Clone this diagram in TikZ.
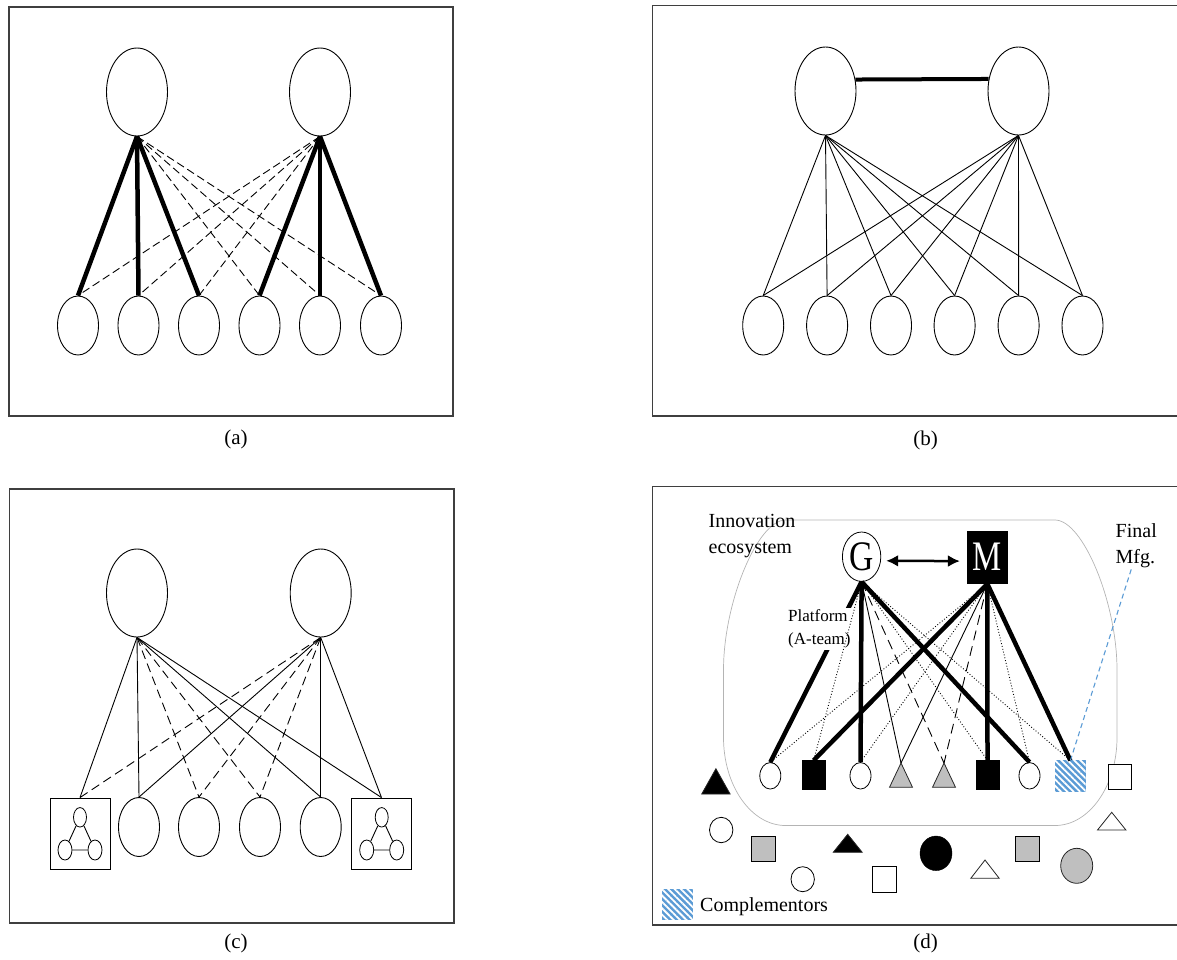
\documentclass[tikz,border=0pt]{standalone}
\usepackage{fontspec}
\setmainfont{Liberation Serif}
\usetikzlibrary{shapes.geometric,arrows.meta,patterns.meta}
\definecolor{hblue}{HTML}{5B9BD5}
\definecolor{shgray}{HTML}{BFBFBF}
\definecolor{framec}{HTML}{3F3F3F}
\definecolor{ecogray}{HTML}{B4B4B4}
\begin{document}
\begin{tikzpicture}[x=1pt,y=-1pt,
  frame/.style={draw=framec,line width=1.2pt},
  bigell/.style={draw,ellipse,line width=0.9pt,minimum width=61pt,minimum height=88pt,inner sep=0pt},
  smell/.style={draw,ellipse,line width=0.9pt,minimum width=41pt,minimum height=59pt,inner sep=0pt},
  subbox/.style={draw,rectangle,line width=0.9pt,minimum width=60pt,minimum height=71pt,inner sep=0pt},
  tinyell/.style={draw,ellipse,line width=0.8pt,minimum width=13pt,minimum height=19.5pt,inner sep=0pt},
  heavy/.style={line width=4.5pt},
  light/.style={line width=0.9pt},
  dashA/.style={line width=0.9pt,dash pattern=on 8pt off 4pt},
  dashC/.style={line width=0.9pt,dash pattern=on 9pt off 5pt},
  dashD/.style={line width=0.9pt,dash pattern=on 10pt off 6pt},
  dotD/.style={line width=0.9pt,dash pattern=on 0.9pt off 2pt},
  caption/.style={font=\fontsize{21}{24}\selectfont,inner sep=0pt},
  bigtxt/.style={font=\fontsize{20}{26}\selectfont,inner sep=0pt,align=left},
  dcirc/.style={draw,ellipse,line width=0.8pt,minimum width=21pt,minimum height=26.5pt,inner sep=0pt,fill=white},
  ocirc/.style={draw,ellipse,line width=0.8pt,minimum width=23.4pt,minimum height=25.4pt,inner sep=0pt,fill=white},
  dsq/.style={draw,rectangle,line width=0.8pt,inner sep=0pt},
  tri/.style={draw=black!85,line width=0.8pt},
  hatch/.style={draw=hblue,line width=0.8pt,fill=hblue,postaction={pattern={Lines[angle=-45,distance=4.5pt,line width=1.8pt]},pattern color=white}}
]
\useasboundingbox (0,0) rectangle (1177,959);

% ---------------- panel (a)
\draw[frame] (9,7) rectangle (453,416);
\node[bigell] (aL) at (137,92) {};
\node[bigell] (aR) at (320,92) {};
\foreach \i/\x in {1/78,2/138.5,3/199,4/259.5,5/320,6/381}
  \node[smell] (a\i) at (\x,325.5) {};
\foreach \i in {1,2,3} \draw[heavy] (aL.south) -- (a\i.north);
\foreach \i in {4,5,6} \draw[heavy] (aR.south) -- (a\i.north);
\foreach \i in {4,5,6} \draw[dashA] (aL.south) -- (a\i.north);
\foreach \i in {1,2,3} \draw[dashA] (aR.south) -- (a\i.north);
\node[caption] (alab) at (236,439) {(a)};

% ---------------- panel (b)
\draw[frame] (1177,5.7) -- (652.7,5.7) -- (652.7,416) -- (1177,416);
\node[bigell] (bL) at (825.5,91) {};
\node[bigell] (bR) at (1018.5,91) {};
\draw[line width=4pt] (bL.21.7) -- (bR.158.3);
\foreach \i/\x in {1/763.2,2/827.1,3/891,4/954.6,5/1018.6,6/1082.5}
  \node[smell] (b\i) at (\x,325.5) {};
\foreach \i in {1,...,6} {
  \draw[light] (bL.south) -- (b\i.north);
  \draw[light] (bR.south) -- (b\i.north);
}
\node[caption] (blab) at (925.5,440) {(b)};

% ---------------- panel (c)
\draw[frame] (9.3,489) rectangle (454,923);
\node[bigell] (cL) at (137,593) {};
\node[bigell] (cR) at (320.7,593) {};
\node[subbox] (c1) at (80,833.5) {};
\node[subbox] (c6) at (381.5,833.5) {};
\foreach \i/\x in {2/139,3/199,4/260,5/320.7}
  \node[smell] (c\i) at (\x,827) {};
% small graphs inside boxes
\node[tinyell] (c1t) at (80,817.3) {};
\node[tinyell,minimum width=14pt,minimum height=20pt] (c1l) at (65,850) {};
\node[tinyell,minimum width=14pt,minimum height=20pt] (c1r) at (95,850) {};
\draw[light] (c1t) -- (c1l) (c1t) -- (c1r) (c1l) -- (c1r);
\node[tinyell] (c6t) at (381.7,817.3) {};
\node[tinyell,minimum width=14pt,minimum height=20pt] (c6l) at (366.7,850) {};
\node[tinyell,minimum width=14pt,minimum height=20pt] (c6r) at (396.7,850) {};
\draw[light] (c6t) -- (c6l) (c6t) -- (c6r) (c6l) -- (c6r);
% connectors
\foreach \i in {1,2,5,6} \draw[light] (cL.south) -- (c\i.north);
\foreach \i in {3,4} \draw[dashC] (cL.south) -- (c\i.north);
\foreach \i in {2,5,6} \draw[light] (cR.south) -- (c\i.north);
\foreach \i in {1,3,4} \draw[dashC] (cR.south) -- (c\i.north);
\node[caption] (clab) at (236,943) {(c)};

% ---------------- panel (d)
\draw[frame] (1177,486.7) -- (652.7,486.7) -- (652.7,925) -- (1177,925);
% innovation ecosystem boundary
\draw[ecogray,line width=0.7pt] (785.5,520) -- (1055,520)
  .. controls (1082.9,520) and (1117,602.5) .. (1117,670) -- (1117,737.5)
  .. controls (1117,786) and (1089.2,825.5) .. (1055,825.5) -- (785.5,825.5)
  .. controls (751.3,825.5) and (723.5,786) .. (723.5,737.5) -- (723.5,670)
  .. controls (723.5,602.5) and (757.6,520) .. (785.5,520) -- cycle;
\node[bigtxt,anchor=north west] (inno) at (708.5,514.5) {Innovation\\ecosystem};
\node[bigtxt,anchor=north west] (fmfg) at (1115.5,523) {Final\\Mfg.};

% top actors
\node[draw,ellipse,line width=0.8pt,minimum width=38.4pt,minimum height=49.4pt,inner sep=0pt,fill=white] (G) at (861.6,556.7)
  {\scalebox{0.8}[1]{\fontsize{42}{42}\selectfont G}};
\node[rectangle,fill=black,minimum width=40.5pt,minimum height=53pt,inner sep=0pt,text=white] (M) at (987.35,557.2)
  {\scalebox{0.78}[1]{\fontsize{42}{42}\selectfont M}};
\draw[line width=2.5pt,{Latex[length=12pt,width=12pt]}-{Latex[length=12pt,width=12pt]},
  shorten <=5pt,shorten >=7pt,transform canvas={yshift=-4pt}] (G) -- (M);

% members inside the ecosystem
\node[dcirc] (d1) at (770.3,775.8) {};
\node[dsq,fill=black,minimum width=22.8pt,minimum height=28.5pt] (d2) at (813.6,775) {};
\node[dcirc] (d3) at (860.5,775.8) {};
\coordinate (t4) at (901,763);
\draw[tri,fill=shgray] (t4) -- (912.5,787.3) -- (889.5,787.3) -- cycle;
\coordinate (t5) at (944,763);
\draw[tri,fill=shgray] (t5) -- (955.5,787.3) -- (932.5,787.3) -- cycle;
\node[dsq,fill=black,minimum width=22.8pt,minimum height=28.5pt] (d6) at (987.5,775) {};
\node[dcirc] (d7) at (1029.5,775.8) {};
\node[hatch,minimum width=30.4pt,minimum height=30.7pt,inner sep=0pt] (d8) at (1070.4,776.2) {};

% other shapes outside
\node[dsq,fill=white,minimum width=23.4pt,minimum height=25pt] (o1) at (1120,776.8) {};
\coordinate (o2) at (1111.7,812.3);
\draw[tri,fill=white] (o2) -- (1125.9,830) -- (1097.5,830) -- cycle;
\coordinate (o3) at (715.9,768.7);
\draw[tri,fill=black] (o3) -- (730.1,794) -- (701.7,794) -- cycle;
\node[ocirc] (o4) at (721.2,830) {};
\node[dsq,fill=shgray,minimum width=23.3pt,minimum height=24.3pt] (o5) at (763.4,848.9) {};
\coordinate (o6) at (847.7,834.3);
\draw[tri,fill=black] (o6) -- (862.2,852.3) -- (833.2,852.3) -- cycle;
\node[ocirc,minimum height=25pt] (o7) at (802.7,879.2) {};
\node[dsq,fill=white,minimum width=23.3pt,minimum height=25.6pt] (o8) at (884.4,879.5) {};
\node[draw,ellipse,fill=black,minimum width=32pt,minimum height=34.6pt,inner sep=0pt] (o9) at (936,853.3) {};
\coordinate (o10) at (985,860);
\draw[tri,fill=white] (o10) -- (999.2,878.3) -- (970.8,878.3) -- cycle;
\node[dsq,fill=shgray,minimum width=23.3pt,minimum height=24.3pt] (o11) at (1027.4,848.9) {};
\node[draw=black!85,ellipse,line width=0.8pt,fill=shgray,minimum width=32pt,minimum height=35pt,inner sep=0pt] (o12) at (1076.7,865.8) {};

% connectors
\draw[heavy] (G.south) -- (d1.north);
\draw[heavy] (G.south) -- (d3.north);
\draw[light] (G.south) -- (t4);
\draw[dashD] (G.south) -- (t5);
\draw[heavy] (G.south) -- (d7.north);
\draw[heavy] (M.south) -- (d2.north);
\draw[light] (M.south) -- (t4);
\draw[dashD] (M.south) -- (t5);
\draw[heavy] (M.south) -- (d6.north);
\draw[heavy] (M.south) -- (d8.north);
\node[font=\fontsize{17}{22.4}\selectfont,align=left,fill=white,inner sep=2pt,anchor=north west] (plat) at (786,607.7) {Platform\\(A-team)};
\draw[dotD] (G.south) -- (d2.north);
\draw[dotD] (G.south) -- (d6.north);
\draw[dotD] (G.south) -- (d8.north);
\draw[dotD] (M.south) -- (d1.north);
\draw[dotD] (M.south) -- (d3.north);
\draw[dotD] (M.south) -- (d7.north);
\coordinate (fmend) at (1131.5,568.5);
\draw[hblue,line width=1.1pt,dash pattern=on 5pt off 3.5pt] (d8.north) -- (fmend);

% legend
\node[hatch,minimum width=30.9pt,minimum height=29.7pt,inner sep=0pt] (leg) at (677.35,904.15) {};
\node[font=\fontsize{20}{24}\selectfont,inner sep=0pt,anchor=base west] (legt) at (700,911.7) {Complementors};
\node[caption] (dlab) at (925.5,943) {(d)};
\end{tikzpicture}
\end{document}
